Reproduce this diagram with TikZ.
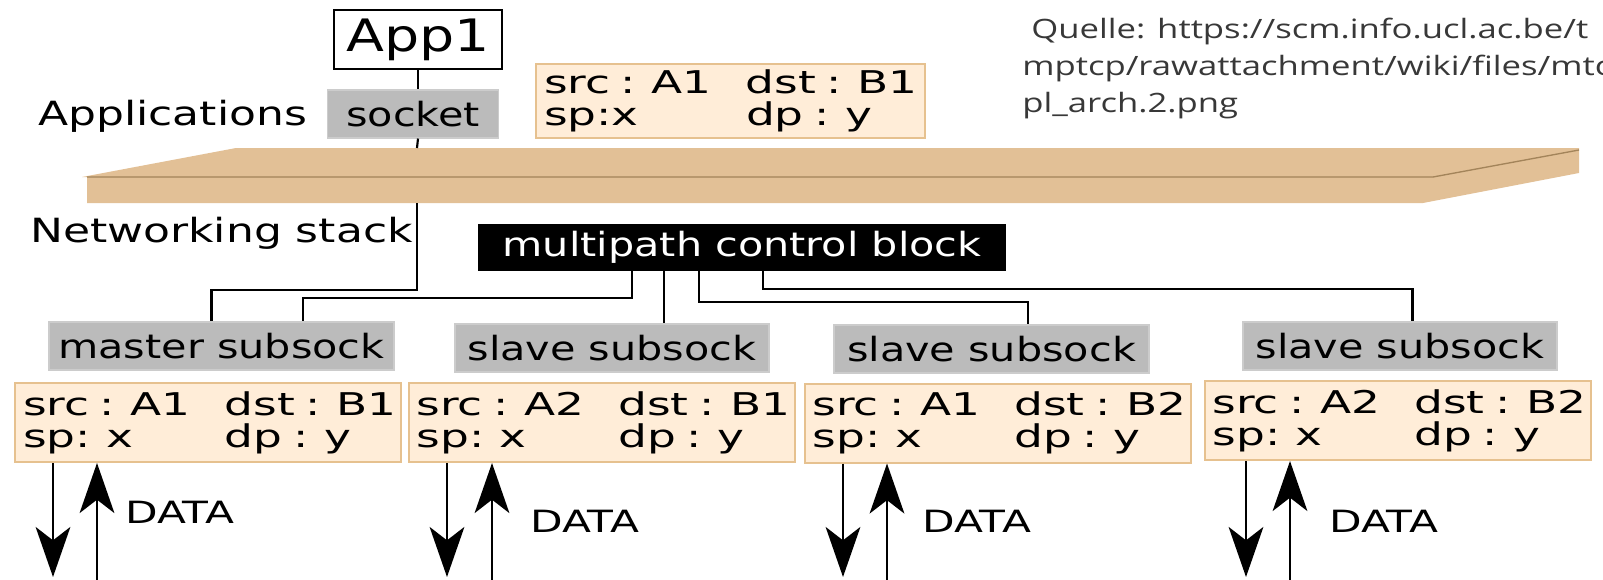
\documentclass[tikz,border=0pt]{standalone}
\usepackage{fontspec}
\setmainfont{DejaVu Sans}
\newfontfamily\labelfont{DejaVu Sans}[FakeStretch=1.32]
\newfontfamily\boxfont{DejaVu Sans}[FakeStretch=1.24]
\newfontfamily\addrfont{DejaVu Sans}[FakeStretch=1.45]
\newfontfamily\datafont{DejaVu Sans}[FakeStretch=1.38]
\newfontfamily\notefont{Open Sans}[FakeStretch=1.30]
\usetikzlibrary{arrows.meta,calc}

\definecolor{sockgrey}{HTML}{BBBBBB}
\definecolor{sockline}{HTML}{CCCCCC}
\definecolor{peach}{HTML}{FFEDD8}
\definecolor{peachline}{HTML}{E6C18F}
\definecolor{slab}{HTML}{E2C096}
\definecolor{slabline}{HTML}{A3845A}
\definecolor{notegrey}{HTML}{383838}

% address pair: left column, then right column
\newcommand{\addr}[2]{\makebox[151.5pt][l]{#1}\mbox{#2}}

\tikzset{
  subsock/.style={fill=sockgrey, draw=sockline, line width=0.8pt, inner sep=0pt,
    minimum height=36pt, font=\boxfont\fontsize{25}{30}\selectfont},
  addrbox/.style={fill=peach, draw=peachline, line width=1.5pt, inner xsep=6pt,
    inner ysep=0pt, text width=277.5pt, align=left, minimum height=59.25pt,
    font=\addrfont\fontsize{23.5}{24}\selectfont},
  link/.style={line width=1.6pt},
  data/.style={line width=2pt, -{Stealth[length=37.5pt,width=26pt,inset=10pt]}},
  datalabel/.style={anchor=base west, inner sep=0pt, font=\datafont\fontsize{23}{26}\selectfont},
  layerlabel/.style={anchor=base west, inner sep=0pt, font=\labelfont\fontsize{25}{30}\selectfont}
}

\begin{document}
\begin{tikzpicture}[x=0.75pt, y=-0.75pt]
  \useasboundingbox (0,0) rectangle (1603,579);
  \clip (0,0) rectangle (1603,579);

  % the layer between applications and the stack
  \fill[slab] (82,177) -- (236,148) -- (1579,148) -- (1579,173) -- (1423,203)
    -- (87,203) -- (87,177) -- cycle;
  \draw[slabline, line width=1pt] (87,177) -- (1433,177) -- (1579,150);
  \coordinate (stacktop) at (417,148);
  \coordinate (stackbot) at (417,203);

  % application side
  \node[draw, line width=1.2pt, fill=white, minimum width=126pt, minimum height=44.25pt,
    inner sep=0pt, font=\boxfont\fontsize{33.5}{36}\selectfont] (app) at (418,39.5) {App1};
  \node[subsock, minimum width=128.6pt] (socket) at (413,114) {socket};
  \node[addrbox, minimum height=55.5pt, text width=279.75pt] (conn) at (730.5,101)
    {\addr{src : A1}{dst : B1}\\\addr{sp:x}{dp : y}};
  \node[layerlabel] (apps) at (38,125) {Applications};
  \node[layerlabel] (stack) at (30,242) {Networking stack};
  \node[anchor=north west, inner sep=0pt, align=left, text=notegrey,
    font=\notefont\fontsize{20}{27.75}\selectfont] (source) at (1022,17.7)
    {\ Quelle: https://scm.info.ucl.ac.be/t\\mptcp/rawattachment/wiki/files/mtc\\pl\_arch.2.png};

  \draw[link] (app.south) -- (app.south |- socket.north);
  \draw[link] (app.south |- socket.south) -- (stacktop);

  % stack side
  \node[fill=black, text=white, minimum width=396pt, minimum height=35.25pt, inner sep=0pt,
    font=\boxfont\fontsize{25}{30}\selectfont] (mpcb) at (742,247.5) {multipath control block};

  \node[subsock, minimum width=258.75pt] (master) at (221.5,346) {master subsock};
  \node[subsock, minimum width=235.5pt] (slave1) at (612,348) {slave subsock};
  \node[subsock, minimum width=236.25pt] (slave2) at (991.5,349) {slave subsock};
  \node[subsock, minimum width=235.5pt] (slave3) at (1400,346) {slave subsock};

  \node[addrbox] (path1) at (208,422.5) {\addr{src : A1}{dst : B1}\\\addr{sp: x}{dp : y}};
  \node[addrbox] (path2) at (601.5,422.5) {\addr{src : A2}{dst : B1}\\\addr{sp: x}{dp : y}};
  \node[addrbox] (path3) at (997.5,423) {\addr{src : A1}{dst : B2}\\\addr{sp: x}{dp : y}};
  \node[addrbox] (path4) at (1397.5,420.5) {\addr{src : A2}{dst : B2}\\\addr{sp: x}{dp : y}};

  \coordinate (d1) at ($(mpcb.south)+(-110,0)$);
  \coordinate (d2) at ($(mpcb.south)+(-78,0)$);
  \coordinate (d3) at ($(mpcb.south)+(-43,0)$);
  \coordinate (d4) at ($(mpcb.south)+(21,0)$);

  \draw[link] (stackbot) -- ++(0,87) -| ($(master.north)+(-10,0)$);
  \draw[link] (d1) -- ++(0,27) -| ($(master.north)+(81.5,0)$);
  \draw[link] (d2) -- (d2 |- slave1.north);
  \draw[link] (d3) -- ++(0,31) -| ($(slave2.north)+(36.5,0)$);
  \draw[link] (d4) -- ++(0,18) -| ($(slave3.north)+(12.5,0)$);

  % data in and out of every subflow
  \foreach \p/\dx/\ux/\lx/\ly in {path1/53/97/125/523, path2/447/492/530/532,
      path3/843/887/922/532, path4/1246/1290/1329/532} {
    \coordinate (\p down) at (\dx,577);
    \coordinate (\p up) at (\ux,590);
    \draw[data] (\p.south -| \p down) -- (\p down);
    \draw[data] (\p up) -- (\p.south -| \p up);
    \node[datalabel] (\p data) at (\lx,\ly) {DATA};
  }
\end{tikzpicture}
\end{document}
